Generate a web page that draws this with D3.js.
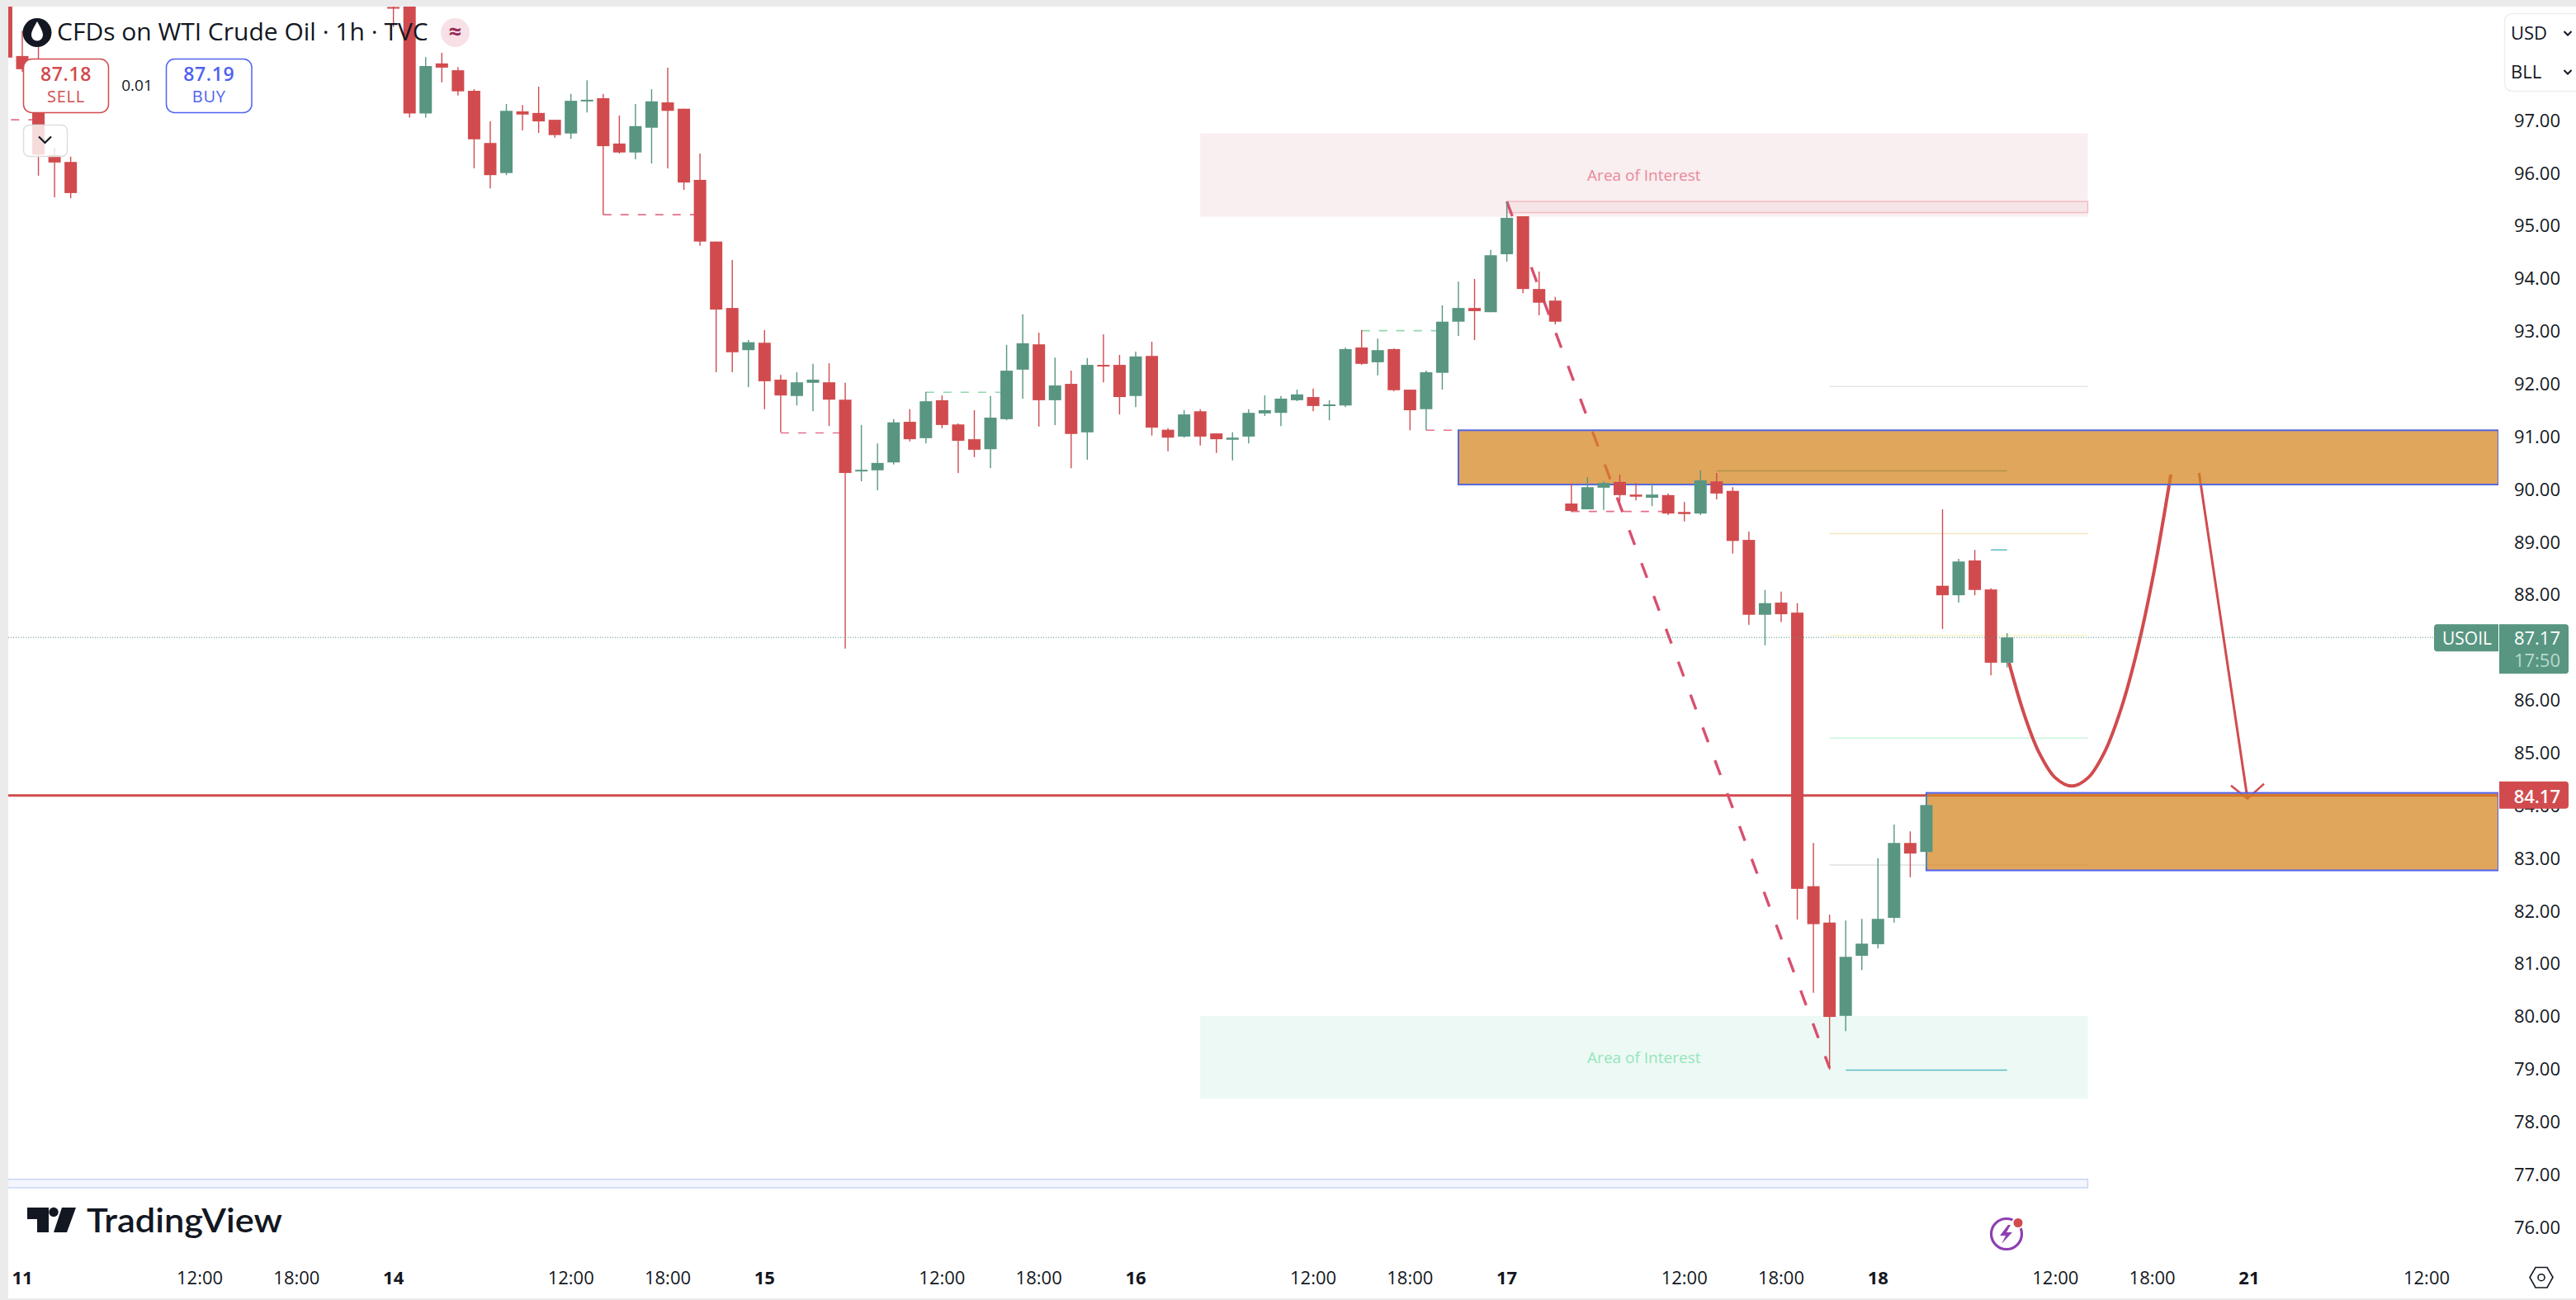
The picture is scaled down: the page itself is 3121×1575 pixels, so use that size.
<!DOCTYPE html>
<html>
<head>
<meta charset="utf-8">
<title>CFDs on WTI Crude Oil</title>
<script src="https://cdnjs.cloudflare.com/ajax/libs/d3/7.8.5/d3.min.js"></script>
<style>
html,body{margin:0;padding:0;background:#fff;overflow:hidden}
svg{display:block}
text{font-family:"Open Sans","Noto Sans",sans-serif;fill:#131722}
</style>
</head>
<body>
<svg id="chart" width="3121" height="1575"></svg>
<script>
// Hourly bars, numbered from the first session on the time axis.
const barIndex = [-1, 0, 1, 2, 3, ...d3.range(23, 124)];
const opens = [
  99.14,98.20,97.93,96.32,96.19,
  99.13,100.20,97.11,98.06,97.93,97.54,96.55,95.98,97.15,97.12,
  96.99,96.73,97.36,97.40,96.54,96.37,96.84,97.32,97.20,95.85,
  94.68,93.42,92.62,92.76,92.06,91.75,92.00,92.01,91.68,90.33,
  90.34,90.49,91.26,90.95,91.67,91.21,90.93,90.74,91.31,92.25,
  92.73,91.67,91.98,91.06,92.34,92.34,91.75,92.51,91.11,90.98,
  91.46,91.04,90.92,90.98,91.42,91.43,91.67,91.73,91.58,91.57,
  92.67,92.39,92.64,91.87,91.50,92.19,93.16,93.42,93.34,94.44,
  95.16,93.78,93.56,89.71,89.60,90.01,90.12,89.88,89.82,89.87,
  89.55,89.52,90.13,89.95,89.02,87.60,87.83,87.64,82.45,81.76,
  79.99,81.13,81.35,81.85,83.27,83.10,88.15,87.97,88.63,88.08,86.69
];
const highs = [
  99.50,98.68,98.37,96.46,96.29,
  99.40,100.40,98.18,98.26,97.99,97.57,96.96,97.29,97.27,97.62,
  96.99,97.48,97.74,97.48,97.07,97.29,97.57,97.98,97.20,96.35,
  94.68,94.33,92.81,93.00,92.15,92.20,92.36,92.37,92.00,91.20,
  90.85,91.31,91.50,91.83,91.76,91.23,91.48,91.75,92.72,93.30,
  92.95,92.48,92.23,92.47,92.92,92.53,92.59,92.78,91.14,91.48,
  91.50,91.04,91.06,91.50,91.76,91.75,91.87,91.89,91.67,92.67,
  93.00,92.84,92.65,91.87,92.23,93.47,93.92,93.97,94.52,95.44,
  95.16,94.11,93.63,90.09,90.21,90.13,90.26,90.10,90.09,89.90,
  89.74,90.34,90.29,90.02,89.18,88.07,88.04,87.82,83.27,81.91,
  81.80,81.83,82.98,83.62,83.49,84.17,89.60,88.66,88.83,88.10,87.25
];
const lows = [
  98.17,97.90,95.93,95.52,95.50,
  98.75,97.03,97.03,97.70,97.45,96.07,95.69,95.94,96.79,96.74,
  96.65,96.63,97.13,95.19,96.35,96.24,96.16,96.07,95.66,94.60,
  92.20,92.20,91.92,91.50,91.06,91.57,91.46,91.18,86.96,90.13,
  89.96,90.45,90.89,90.85,91.14,90.29,90.59,90.38,91.29,91.70,
  91.17,91.20,90.38,90.54,92.01,91.40,91.54,91.00,90.70,90.96,
  90.81,90.67,90.53,90.85,91.37,91.18,91.65,91.46,91.29,91.54,
  92.34,92.14,91.84,91.10,91.10,91.87,92.89,92.81,93.34,94.30,
  93.70,93.28,93.11,89.55,89.60,89.59,89.74,89.77,89.66,89.49,
  89.37,89.49,89.79,88.76,87.41,87.02,87.46,81.82,80.43,78.97,
  79.70,80.86,81.27,81.76,82.62,82.80,87.33,87.83,87.97,86.45,86.60
];
const closes = [
  98.17,97.95,96.33,96.18,95.60,
  99.12,97.11,98.01,97.98,97.53,96.62,95.94,97.16,97.09,96.96,
  96.70,97.35,97.37,96.49,96.37,96.87,97.34,97.16,95.80,94.68,
  93.39,92.58,92.77,92.03,91.76,92.01,92.06,91.68,90.29,90.35,
  90.48,91.25,90.93,91.65,91.20,90.90,90.73,91.34,92.23,92.75,
  91.67,91.95,91.03,92.34,92.31,91.73,92.50,91.15,90.96,91.40,
  90.98,90.93,90.96,91.43,91.48,91.70,91.78,91.56,91.59,92.64,
  92.36,92.62,91.86,91.48,92.20,93.16,93.42,93.36,94.42,95.13,
  93.78,93.52,93.16,89.57,90.02,90.10,89.87,89.84,89.88,89.52,
  89.51,90.15,89.90,89.00,87.60,87.82,87.61,82.40,81.73,79.97,
  81.11,81.36,81.83,83.27,83.07,83.99,87.97,88.61,88.07,86.69,87.17
];

// Axis labels; the 87 and 84 rows sit at the two price tags.
const priceTicks = [97,96,95,94,93,92,91,90,89,88,86,85,84,83,82,81,80,79,78,77,76];
const timeTickBars = [0,11,17,23,34,40,46,57,63,69,80,86,92,103,109,115,126,132,138,149];
const timeTickLabels = ["11","12:00","18:00","14","12:00","18:00","15","12:00","18:00","16","12:00","18:00","17","12:00","18:00","18","12:00","18:00","21","12:00"];

// Quote read-outs.
const lastPrice = 87.17;
const alertPrice = 84.17;
const sellQuote = "87.18";
const buyQuote = "87.19";
const spreadQuote = "0.01";
const countdown = "17:50";

// Drawn zones: first bar, last bar, upper price, lower price.
const sellInterest = [73, 128, 96.73, 95.15];
const sellInterestStrip = [92, 128, 95.44, 95.23];
const buyInterest = [73, 128, 79.99, 78.42];
const lowerBand = [-1, 128, 76.89, 76.73];
const upperSupply = [89, 153.45, 91.10, 90.07];
const lowerDemand = [118, 153.45, 84.22, 82.75];

// Thin retracement levels: first bar, last bar, price.
const paleLevels = [
  [112, 128, 91.93],
  [112, 128, 89.14],
  [112, 128, 87.21],
  [112, 128, 85.26],
  [112, 128, 82.85]
];
const tealLevels = [
  [105, 123, 90.33],
  [122, 123, 88.83],
  [113, 123, 78.96]
];

// Broken-structure dashes: first bar, last bar, price.
const redDashes = [
  [-0.7, 1, 96.99],
  [36, 42, 95.19],
  [47, 51, 91.05],
  [87, 89, 91.10],
  [96, 102, 89.56]
];
const greenDashes = [
  [56, 61, 91.82],
  [83, 88, 92.99]
];

// The sell-off leg and the projected path, as [bar, price].
const impulseLeg = [[92, 95.44], [112, 79.00]];
const projectedCurve = [
  [123.12,86.69],[124.04,85.73],[124.96,85.00],[125.98,84.51],[127.01,84.35],
  [128.03,84.51],[129.05,85.00],[130.08,85.83],[131.10,86.97],[132.12,88.44],[133.15,90.26]
];
const projectedDrop = [[134.9, 90.29], [137.9, 84.11]];

const RED = "#d14b4e", GREEN = "#589682", BODY_W = 15;

const x = d3.scaleLinear().domain([0, 149]).range([27, 2940]);
const y = d3.scaleLinear().domain([97, 76]).range([144.5, 1485.56]);

const svg = d3.select("#chart");
svg.append("defs").append("clipPath").attr("id", "plot")
  .append("rect").attr("x", 10).attr("y", 8).attr("width", 3017).attr("height", 1522);

const plot = svg.append("g").attr("clip-path", "url(#plot)");

function zone(parent, z, fill, stroke, sw) {
  return parent.append("rect")
    .attr("x", x(z[0])).attr("y", y(z[2]))
    .attr("width", x(z[1]) - x(z[0])).attr("height", y(z[3]) - y(z[2]))
    .attr("fill", fill)
    .attr("stroke", stroke || "none")
    .attr("stroke-width", sw || 0);
}
function levels(parent, rows, colour, width, dash) {
  parent.selectAll(null).data(rows).join("line")
    .attr("x1", d => x(d[0])).attr("x2", d => x(d[1]))
    .attr("y1", d => y(d[2])).attr("y2", d => y(d[2]))
    .attr("stroke", colour).attr("stroke-width", width)
    .attr("stroke-dasharray", dash || null);
}

// Pale zones behind everything.
zone(plot, sellInterest, "#f9eef0");
zone(plot, sellInterestStrip, "#f6e5e7", "#f1bcc1", 1.5);
zone(plot, buyInterest, "#edf9f4");
zone(plot, lowerBand, "#f3f6fd", "#c9d5f5", 1.5);

plot.append("text").attr("x", x(100.5)).attr("y", y(95.94) + 6.5)
  .attr("text-anchor", "middle").attr("font-size", 19).style("fill", "#e8899b").text("Area of Interest");
plot.append("text").attr("x", x(100.5)).attr("y", y(79.2) + 6.5)
  .attr("text-anchor", "middle").attr("font-size", 19).style("fill", "#93e5bd").text("Area of Interest");

// Levels, structure dashes and projection sit under the translucent boxes.
const paleColours = ["#e6e6e6", "#f5e6c0", "#fbf6c8", "#c8f5dc", "#e0e0e0"];
paleLevels.forEach((row, i) => levels(plot, [row], paleColours[i], 1.5));
levels(plot, tealLevels, "#5bbcc8", 1.5);
levels(plot, redDashes, "#e6708a", 1.6, "10 11");
levels(plot, greenDashes, "#8fd8ac", 1.6, "10 11");

plot.append("line")
  .attr("x1", x(0) - 17).attr("x2", x(153.45))
  .attr("y1", y(alertPrice)).attr("y2", y(alertPrice))
  .attr("stroke", RED).attr("stroke-width", 3);

plot.append("line")
  .attr("x1", x(impulseLeg[0][0])).attr("y1", y(impulseLeg[0][1]))
  .attr("x2", x(impulseLeg[1][0])).attr("y2", y(impulseLeg[1][1]))
  .attr("stroke", "#d9506e").attr("stroke-width", 3.4).attr("stroke-dasharray", "19 23.5");

const curveLine = d3.line().x(d => x(d[0])).y(d => y(d[1])).curve(d3.curveCatmullRom.alpha(0.5));
plot.append("path").attr("d", curveLine(projectedCurve))
  .attr("fill", "none").attr("stroke", RED).attr("stroke-width", 4);

const dropStart = projectedDrop[0], dropEnd = projectedDrop[1];
plot.append("line")
  .attr("x1", x(dropStart[0])).attr("y1", y(dropStart[1]))
  .attr("x2", x(dropEnd[0])).attr("y2", y(dropEnd[1]))
  .attr("stroke", RED).attr("stroke-width", 3);
plot.append("path")
  .attr("d", `M${x(dropEnd[0]) - 20},${y(dropEnd[1]) - 16}L${x(dropEnd[0])},${y(dropEnd[1])}L${x(dropEnd[0]) + 20},${y(dropEnd[1]) - 18}`)
  .attr("fill", "none").attr("stroke", RED).attr("stroke-width", 2.5);

zone(plot, upperSupply, "rgba(212,132,29,0.72)", "#5566dd", 2);
zone(plot, lowerDemand, "rgba(212,132,29,0.72)", "#4f62f0", 2);

// Candles.
const candles = barIndex.map((bar, i) => ({ bar, o: opens[i], h: highs[i], l: lows[i], c: closes[i] }));
const marks = plot.append("g").selectAll("g").data(candles).join("g")
  .attr("fill", d => d.c >= d.o ? GREEN : RED)
  .attr("stroke", d => d.c >= d.o ? GREEN : RED);
marks.append("line")
  .attr("x1", d => x(d.bar)).attr("x2", d => x(d.bar))
  .attr("y1", d => y(d.h)).attr("y2", d => y(d.l))
  .attr("stroke-width", 1.4);
marks.append("rect")
  .attr("x", d => x(d.bar) - BODY_W / 2)
  .attr("y", d => y(Math.max(d.o, d.c)))
  .attr("width", BODY_W)
  .attr("height", d => Math.max(2, Math.abs(y(d.o) - y(d.c))))
  .attr("stroke", "none");

// Last-price line runs over the candles and stops at the symbol tag.
svg.append("line")
  .attr("x1", 10).attr("x2", 2949)
  .attr("y1", y(lastPrice)).attr("y2", y(lastPrice))
  .attr("stroke", GREEN).attr("stroke-width", 1).attr("stroke-dasharray", "1 2");

// Price axis.
svg.append("g").selectAll("text").data(priceTicks).join("text")
  .attr("x", 3102).attr("y", d => y(d) + 9.2)
  .attr("text-anchor", "end").attr("font-size", 22)
  .text(d => d3.format(".2f")(d));

// Time axis.
svg.append("g").selectAll("text").data(timeTickBars).join("text")
  .attr("x", d => x(d)).attr("y", 1556)
  .attr("text-anchor", "middle").attr("font-size", 22)
  .attr("font-weight", (d, i) => timeTickLabels[i].includes(":") ? 400 : 700)
  .text((d, i) => timeTickLabels[i]);

// Price tags on the right edge.
function tag(px, py, w, h, fill, r) {
  svg.append("path").attr("fill", fill).attr("d",
    `M${px},${py}h${w - r}a${r},${r} 0 0 1 ${r},${r}v${h - 2 * r}a${r},${r} 0 0 1 ${-r},${r}h${-(w - r)}z`);
}
const lastY = y(lastPrice), alertY = y(alertPrice);
tag(3028, lastY - 16, 84, 60, GREEN, 4);
svg.append("path").attr("fill", GREEN).attr("d",
  `M3027,${lastY - 16}h-74a4,4 0 0 0 -4,4v25a4,4 0 0 0 4,4h74z`);
svg.append("text").attr("x", 3019).attr("y", lastY + 9.2).attr("text-anchor", "end").attr("font-size", 21).style("fill", "#fff").text("USOIL");
svg.append("text").attr("x", 3102).attr("y", lastY + 9.2).attr("text-anchor", "end").attr("font-size", 22).style("fill", "#fff").text(d3.format(".2f")(lastPrice));
svg.append("text").attr("x", 3102).attr("y", lastY + 36).attr("text-anchor", "end").attr("font-size", 22).style("fill", "#b9d9cd").text(countdown);
tag(3028, alertY - 17, 84, 33, RED, 4);
svg.append("text").attr("x", 3102).attr("y", alertY + 9).attr("text-anchor", "end").attr("font-size", 22).attr("font-weight", 600).style("fill", "#fff").text(d3.format(".2f")(alertPrice));

// Frame strips.
svg.append("rect").attr("x", 0).attr("y", 0).attr("width", 3121).attr("height", 8).attr("fill", "#ebebeb");
svg.append("rect").attr("x", 0).attr("y", 0).attr("width", 10).attr("height", 1575).attr("fill", "#ebebeb");
svg.append("rect").attr("x", 0).attr("y", 1573).attr("width", 3121).attr("height", 2).attr("fill", "#ebebeb");

// Legend: symbol, title and status.
svg.append("circle").attr("cx", 45).attr("cy", 39.5).attr("r", 17.5).attr("fill", "#131722");
svg.append("path").attr("fill", "#fff")
  .attr("d", "M45,26C41,33 38,38 38,42.5a7,7 0 0 0 14,0C52,38 49,33 45,26z");
svg.append("text").attr("x", 69).attr("y", 49.3).attr("font-size", 30).text("CFDs on WTI Crude Oil · 1h · TVC");
svg.append("circle").attr("cx", 551.5).attr("cy", 39.5).attr("r", 17.5).attr("fill", "#f7e1e7");
svg.append("text").attr("x", 551.5).attr("y", 48).attr("text-anchor", "middle").attr("font-size", 27).attr("font-weight", 700).style("fill", "#9b2c5c").text("≈");

// Order buttons.
function quoteButton(px, w, colour, price, label) {
  svg.append("rect").attr("x", px).attr("y", 71.5).attr("width", w).attr("height", 65).attr("rx", 10)
    .attr("fill", "#fff").attr("stroke", colour).attr("stroke-width", 1.5);
  svg.append("text").attr("x", px + w / 2).attr("y", 98).attr("text-anchor", "middle").attr("font-size", 23).attr("font-weight", 600).attr("letter-spacing", 0.6).style("fill", colour).text(price);
  svg.append("text").attr("x", px + w / 2).attr("y", 124.3).attr("text-anchor", "middle").attr("font-size", 20).attr("letter-spacing", 0.8).style("fill", colour).text(label);
}
quoteButton(28.5, 103, RED, sellQuote, "SELL");
quoteButton(201.5, 103.5, "#4f62f0", buyQuote, "BUY");
svg.append("text").attr("x", 166).attr("y", 110).attr("text-anchor", "middle").attr("font-size", 19).text(spreadQuote);

svg.append("rect").attr("x", 28.5).attr("y", 151.5).attr("width", 53).attr("height", 38).attr("rx", 7)
  .attr("fill", "rgba(255,255,255,0.8)").attr("stroke", "#dedede").attr("stroke-width", 1.5);
svg.append("path").attr("d", "M47,165.5l7.5,7.5l7.5,-7.5").attr("fill", "none").attr("stroke", "#131722").attr("stroke-width", 2.2);

// Currency and unit selectors.
svg.append("rect").attr("x", 3034.5).attr("y", 16.5).attr("width", 100).attr("height", 94).attr("rx", 9)
  .attr("fill", "#fff").attr("stroke", "#eeeeee").attr("stroke-width", 1.5);
svg.append("text").attr("x", 3042).attr("y", 47.7).attr("font-size", 22).text("USD");
svg.append("text").attr("x", 3042).attr("y", 95).attr("font-size", 22).text("BLL");
[40, 87].forEach(cy => svg.append("path").attr("d", `M3106.5,${cy - 2}l4.5,4.5l4.5,-4.5`).attr("fill", "none").attr("stroke", "#131722").attr("stroke-width", 2));

// TradingView mark.
svg.append("path").attr("fill", "#131722").attr("d", "M33,1463H59V1493H45V1477H33z");
svg.append("circle").attr("cx", 65).attr("cy", 1468.5).attr("r", 5.7).attr("fill", "#131722");
svg.append("path").attr("fill", "#131722").attr("d", "M75,1463H92L81,1493H65z");
svg.append("text").attr("x", 105).attr("y", 1493).attr("font-size", 40).attr("font-weight", 600)
  .attr("textLength", 237).attr("lengthAdjust", "spacingAndGlyphs").style("font-family", "Lato,'Open Sans',sans-serif").text("TradingView");

// Lightning badge.
svg.append("circle").attr("cx", 2431).attr("cy", 1495).attr("r", 18.5).attr("fill", "none").attr("stroke", "#8e3fb0").attr("stroke-width", 3.2);
svg.append("path").attr("fill", "#8e3fb0").attr("d", "M2433,1484L2423,1497H2430L2425,1507L2438,1493H2431L2436,1484z");
svg.append("circle").attr("cx", 2445).attr("cy", 1481.5).attr("r", 7.5).attr("fill", "#fff");
svg.append("circle").attr("cx", 2445).attr("cy", 1481.5).attr("r", 5.5).attr("fill", RED);

// Settings glyph.
svg.append("path").attr("d", "M3072,1535.5H3086L3093,1547.5L3086,1560H3072L3065,1547.5z").attr("fill", "none").attr("stroke", "#131722").attr("stroke-width", 1.6);
svg.append("circle").attr("cx", 3079).attr("cy", 1547.7).attr("r", 4).attr("fill", "none").attr("stroke", "#131722").attr("stroke-width", 1.6);
</script>
</body>
</html>
